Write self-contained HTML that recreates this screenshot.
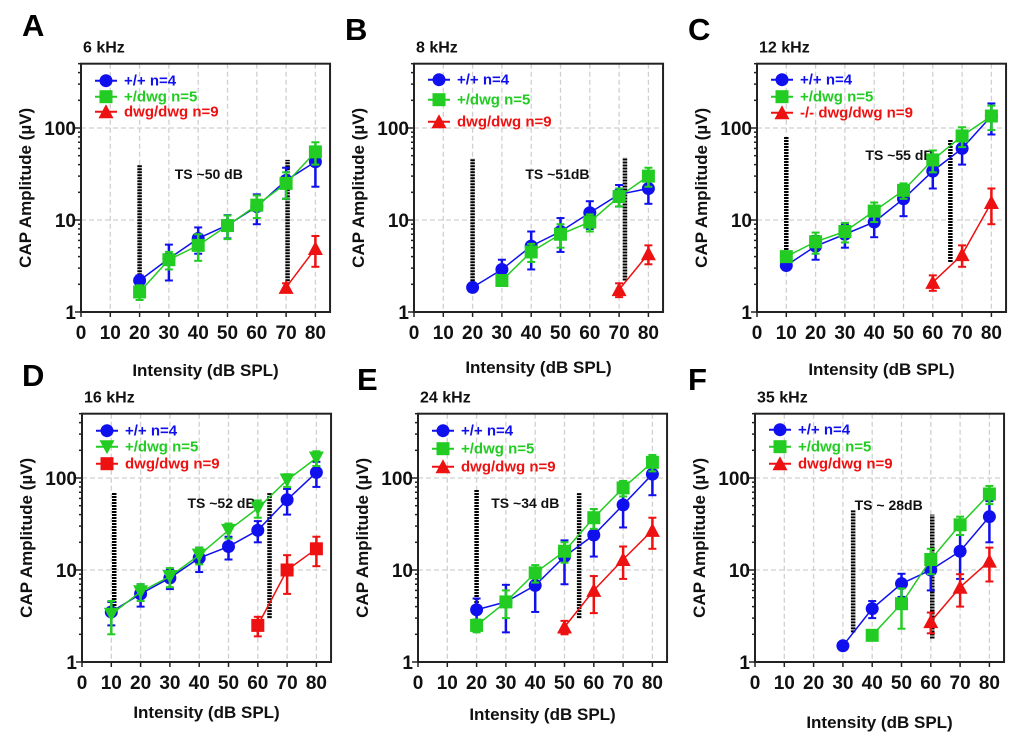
<!DOCTYPE html>
<html><head><meta charset="utf-8"><style>
body{margin:0;background:#fff;}
svg{display:block;font-family:"Liberation Sans",Arial,sans-serif;}
</style></head><body>
<svg id="fig" width="1020" height="755" viewBox="0 0 1020 755"></svg>
<script>
const xTicks=[0,10,20,30,40,50,60,70,80];
const yTickLabels=["1","10","100"];
// Panel A 6 kHz
const aBlueX=[20,30,40,50,60,70,80], aBlueY=[2.2,3.8,6.3,8.8,14,27,43], aBlueE=[0.3,1.6,2,2.5,5,10,20];
const aGreenX=[20,30,40,50,60,70,80], aGreenY=[1.65,3.7,5.3,8.7,14.5,25,55], aGreenE=[0.3,0.8,1.7,2.5,4,8,15];
const aRedX=[70,80], aRedY=[1.85,4.9], aRedE=[0.2,1.8];
// Panel B 8 kHz
const bBlueX=[20,30,40,50,60,70,80], bBlueY=[1.85,2.9,5.2,7.5,12,19,22], bBlueE=[0.1,0.8,2.3,3,4,5,7];
const bGreenX=[30,40,50,60,70,80], bGreenY=[2.2,4.5,7,9.5,18,30], bGreenE=[0.1,1,2,2,4,7];
const bRedX=[70,80], bRedY=[1.75,4.3], bRedE=[0.3,1];
// Panel C 12 kHz
const cBlueX=[10,20,30,40,50,60,70,80], cBlueY=[3.2,5.2,7,9.5,17,34,60,135], cBlueE=[0.2,1.5,2,3,6,12,20,50];
const cGreenX=[10,20,30,40,50,60,70,80], cGreenY=[4,5.8,7.5,12.5,21,45,82,135], cGreenE=[0.3,1.5,1.8,3,4,12,20,40];
const cRedX=[60,70,80], cRedY=[2.1,4.2,15.5], cRedE=[0.4,1.1,6.5];
// Panel D 16 kHz
const dBlueX=[10,20,30,40,50,60,70,80], dBlueY=[3.5,5.5,8.2,13.5,18,27,58,115], dBlueE=[1,1.5,2,4,5,7,18,35];
const dGreenX=[10,20,30,40,50,60,70,80], dGreenY=[3.3,5.8,8.5,14.5,27,47,95,165], dGreenE=[1.3,1.2,2,3,5,10,15,30];
const dRedX=[60,70,80], dRedY=[2.5,10,17], dRedE=[0.6,4.5,6];
// Panel E 24 kHz
const eBlueX=[20,30,40,50,60,70,80], eBlueY=[3.7,4.5,6.8,14,24,51,110], eBlueE=[1.2,2.4,3.3,7,10,22,45];
const eGreenX=[20,30,40,50,60,70,80], eGreenY=[2.5,4.5,9.3,16,37,78,148], eGreenE=[0.4,1.5,2,4,9,15,30];
const eRedX=[50,60,70,80], eRedY=[2.4,6,13,27], eRedE=[0.4,2.6,5,10];
// Panel F 35 kHz
const fBlueX=[30,40,50,60,70,80], fBlueY=[1.5,3.8,7.1,10,16,38], fBlueE=[0.05,0.8,2,4,8,18];
const fGreenX=[40,50,60,70,80], fGreenY=[1.95,4.3,13,31,67], fGreenE=[0.05,2,4,7,15];
const fRedX=[60,70,80], fRedY=[2.75,6.5,12.5], fRedE=[0.7,2.5,5];

const NS="http://www.w3.org/2000/svg";
const svg=document.getElementById('fig');
function mk(tag,attrs,parent,text){const e=document.createElementNS(NS,tag);for(const k in attrs)e.setAttribute(k,attrs[k]);if(text!==undefined)e.textContent=text;(parent||svg).appendChild(e);return e;}
const BLUE="#1010ee",GREEN="#22cc22",RED="#ee1111";

function marker(g,shape,cx,cy,col,s){
  let e;
  if(shape==='circle')e=mk('circle',{cx:cx,cy:cy,r:s,fill:col},g);
  else if(shape==='square')e=mk('rect',{x:cx-s,y:cy-s,width:2*s,height:2*s,fill:col},g);
  else if(shape==='tri')e=mk('polygon',{points:`${cx},${cy-s-1} ${cx-s-1},${cy+s} ${cx+s+1},${cy+s}`,fill:col},g);
  else e=mk('polygon',{points:`${cx},${cy+s+1} ${cx-s-1},${cy-s} ${cx+s+1},${cy-s}`,fill:col},g);
  return e;
}

function panel(p){
  const g=mk('g',{});
  
  
  const x0=p.x0,y1=p.y1,xs=2.93,dec=92;
  const X=v=>x0+v*xs, Y=v=>y1-Math.log10(v)*dec;
  const top=Y(500), right=X(85);
  for(const t of xTicks){if(t>0)mk('line',{x1:X(t),x2:X(t),y1:top,y2:y1,stroke:'#d0d0d0','stroke-width':1.3,'stroke-dasharray':'5,3'},g);}
  for(const v of [10,100])mk('line',{x1:x0,x2:right,y1:Y(v),y2:Y(v),stroke:'#d0d0d0','stroke-width':1.3,'stroke-dasharray':'5,3'},g);
  const fr=mk('rect',{x:x0,y:top,width:right-x0,height:y1-top,fill:'none',stroke:'#222','stroke-width':2},g);
  
  
  for(let d=0;d<3;d++)for(let m=1;m<10;m++){const v=m*Math.pow(10,d);if(v>500)break;mk('line',{x1:x0-(m===1?6:3),x2:x0,y1:Y(v),y2:Y(v),stroke:'#222','stroke-width':1.5},g);}
  yTickLabels.forEach((l,i)=>{const t=mk('text',{x:x0-5,y:Y(Math.pow(10,i))+7,'text-anchor':'end','font-size':19,'font-weight':'bold',fill:'#111'},g,l);});
  xTicks.forEach(t=>{mk('line',{x1:X(t),x2:X(t),y1:y1,y2:y1+5,stroke:'#222','stroke-width':1.5},g);const tx=mk('text',{x:X(t),y:y1+27,'text-anchor':'middle','font-size':19,'font-weight':'bold',fill:'#111'},g,String(t));});
  const yt=mk('text',{x:0,y:0,transform:`translate(${x0-50},${(top+y1)/2}) rotate(-90)`,'text-anchor':'middle','font-size':17,'font-weight':'bold',fill:'#111'},g,'CAP Amplitude (µV)');
  
  const xt=mk('text',{x:(x0+right)/2,y:p.xtY,'text-anchor':'middle','font-size':17,'font-weight':'bold',fill:'#111'},g,'Intensity (dB SPL)');
  
  const lt=mk('text',{x:p.lx,y:p.ly,'font-size':31,'font-weight':'bold',fill:'#000'},g,p.letter);
  
  const ft=mk('text',{x:x0+2,y:top-11,'font-size':16,'font-weight':'bold',fill:'#111'},g,p.freq);
  
  p.dots.forEach(d=>{const l=mk('line',{x1:X(d[0]),x2:X(d[0]),y1:Y(d[1]),y2:Y(d[2]),stroke:'#000','stroke-width':4.5,'stroke-dasharray':'2,1'},g);});
  const ts=mk('text',{x:X(p.ts[0]),y:Y(p.ts[1]),'font-size':14,'font-weight':'bold',fill:'#111'},g,p.ts[2]);
  
  p.series.forEach((s,si)=>{
    const sg=mk('g',{},g);
    
    
    mk('polyline',{points:s.x.map((v,i)=>X(v)+','+Y(s.y[i])).join(' '),fill:'none',stroke:s.col,'stroke-width':1.5},sg);
    s.x.forEach((v,i)=>{
      const hi=s.y[i]+s.e[i], lo=Math.max(s.y[i]-s.e[i],1.02);
      mk('line',{x1:X(v),x2:X(v),y1:Y(hi),y2:Y(lo),stroke:s.col,'stroke-width':2.5},sg);
      mk('line',{x1:X(v)-4,x2:X(v)+4,y1:Y(hi),y2:Y(hi),stroke:s.col,'stroke-width':2},sg);
      mk('line',{x1:X(v)-4,x2:X(v)+4,y1:Y(lo),y2:Y(lo),stroke:s.col,'stroke-width':2},sg);
      const m=marker(sg,s.shape,X(v),Y(s.y[i]),s.col,6.5);
      
      
    });
    const ly=top+p.lg[si];
    const le=mk('g',{},g);
    
    
    mk('line',{x1:x0+14,x2:x0+36,y1:ly,y2:ly,stroke:s.col,'stroke-width':2},le);
    marker(le,s.shape,x0+25,ly,s.col,6.5);
    mk('text',{x:x0+43,y:ly+5,'font-size':15,'font-weight':'bold',fill:s.col},le,s.label);
  });
}
const L=['+/+ n=4','+/dwg n=5','dwg/dwg n=9'];
panel({letter:'A',freq:'6 kHz',x0:81,y1:312,xtY:376,lx:22,ly:36,lg:[17,33,48],
 dots:[[20,2,40],[70.5,2,45]],ts:[32,28,'TS ~50 dB'],
 series:[{key:'wt',x:aBlueX,y:aBlueY,e:aBlueE,col:BLUE,shape:'circle',label:L[0]},{key:'het',x:aGreenX,y:aGreenY,e:aGreenE,col:GREEN,shape:'square',label:L[1]},{key:'dwg',x:aRedX,y:aRedY,e:aRedE,col:RED,shape:'tri',label:L[2]}]});
panel({letter:'B',freq:'8 kHz',x0:414,y1:312,xtY:373,lx:345,ly:40,lg:[16,36,58],
 dots:[[20,2,47],[72,2.2,48]],ts:[38,28,'TS ~51dB'],
 series:[{key:'wt',x:bBlueX,y:bBlueY,e:bBlueE,col:BLUE,shape:'circle',label:L[0]},{key:'het',x:bGreenX,y:bGreenY,e:bGreenE,col:GREEN,shape:'square',label:L[1]},{key:'dwg',x:bRedX,y:bRedY,e:bRedE,col:RED,shape:'tri',label:L[2]}]});
panel({letter:'C',freq:'12 kHz',x0:757,y1:312,xtY:375,lx:688,ly:40,lg:[16,33,49],
 dots:[[10,3.5,80],[66,3.5,75]],ts:[37,45,'TS ~55 dB'],
 series:[{key:'wt',x:cBlueX,y:cBlueY,e:cBlueE,col:BLUE,shape:'circle',label:L[0]},{key:'het',x:cGreenX,y:cGreenY,e:cGreenE,col:GREEN,shape:'square',label:L[1]},{key:'dwg',x:cRedX,y:cRedY,e:cRedE,col:RED,shape:'tri',label:'-/- dwg/dwg n=9'}]});
panel({letter:'D',freq:'16 kHz',x0:82,y1:662,xtY:718,lx:22,ly:386,lg:[17,33,50],
 dots:[[11,3.5,70],[64,3,70]],ts:[36,47,'TS ~52 dB'],
 series:[{key:'wt',x:dBlueX,y:dBlueY,e:dBlueE,col:BLUE,shape:'circle',label:L[0]},{key:'het',x:dGreenX,y:dGreenY,e:dGreenE,col:GREEN,shape:'dtri',label:L[1]},{key:'dwg',x:dRedX,y:dRedY,e:dRedE,col:RED,shape:'square',label:L[2]}]});
panel({letter:'E',freq:'24 kHz',x0:418,y1:662,xtY:720,lx:357,ly:390,lg:[17,35,53],
 dots:[[20,3.5,75],[55,3,70]],ts:[25,47,'TS ~34 dB'],
 series:[{key:'wt',x:eBlueX,y:eBlueY,e:eBlueE,col:BLUE,shape:'circle',label:L[0]},{key:'het',x:eGreenX,y:eGreenY,e:eGreenE,col:GREEN,shape:'square',label:L[1]},{key:'dwg',x:eRedX,y:eRedY,e:eRedE,col:RED,shape:'tri',label:L[2]}]});
panel({letter:'F',freq:'35 kHz',x0:755,y1:662,xtY:728,lx:688,ly:390,lg:[16,33,50],
 dots:[[33.5,2.1,45],[60.5,1.8,40]],ts:[34,45,'TS ~ 28dB'],
 series:[{key:'wt',x:fBlueX,y:fBlueY,e:fBlueE,col:BLUE,shape:'circle',label:L[0]},{key:'het',x:fGreenX,y:fGreenY,e:fGreenE,col:GREEN,shape:'square',label:L[1]},{key:'dwg',x:fRedX,y:fRedY,e:fRedE,col:RED,shape:'tri',label:L[2]}]});
</script>
</body></html>
